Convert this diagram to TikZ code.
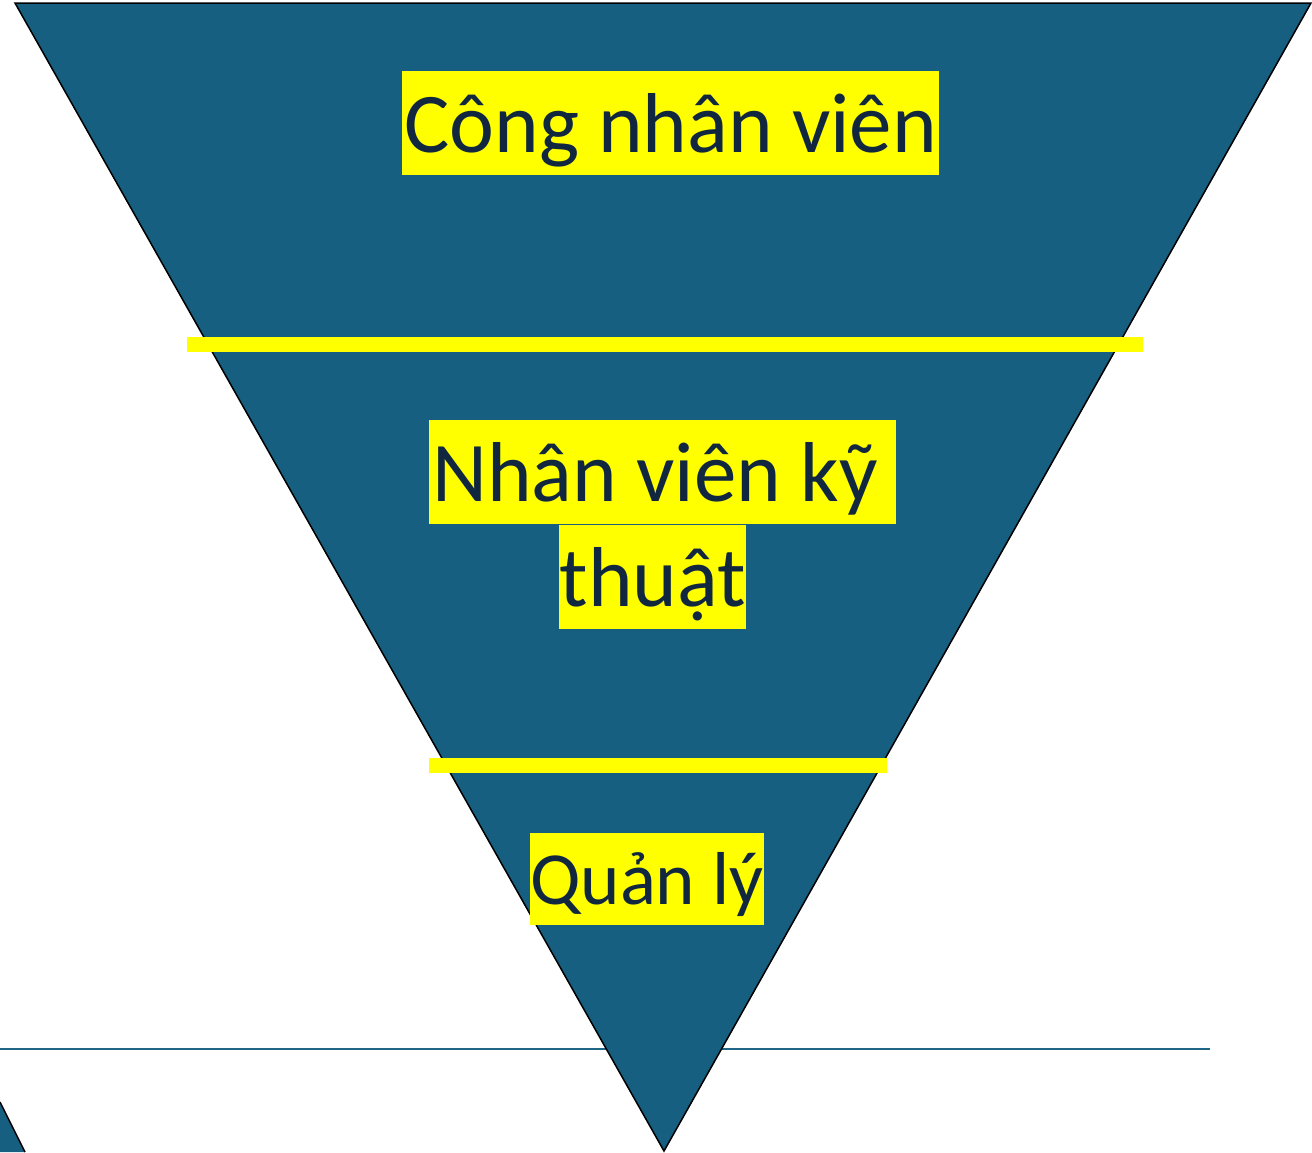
\documentclass[tikz,border=0pt]{standalone}
\usepackage{fontspec}
\setmainfont{Carlito}
\definecolor{tierblue}{HTML}{175F81}
\definecolor{inknavy}{HTML}{10273F}
\definecolor{rulecol}{HTML}{1F6687}
\definecolor{hlyellow}{HTML}{FFFF00}
\tikzset{
  tier/.style={fill=tierblue, draw=black, line width=1.5pt, line join=miter},
  hl/.style={fill=hlyellow, inner sep=0pt, text=inknavy, anchor=north west,
             text height=#1*0.952pt, text depth=#1*0.269pt,
             font=\fontsize{#1pt}{#1pt}\selectfont},
  divider/.style={fill=hlyellow, draw=none}
}
\begin{document}
\begin{tikzpicture}[x=1pt, y=-1pt]
  \useasboundingbox (0,0) rectangle (1312,1152);

  % base rule behind the funnel
  \coordinate (ruleL) at (0,1049);
  \coordinate (ruleR) at (1210,1049);
  \draw[rulecol, line width=2pt] (ruleL) -- (ruleR);

  % inverted triangle
  \coordinate (tl) at (15,3);
  \coordinate (tr) at (1311,3);
  \coordinate (apex) at (664,1151);
  \draw[tier] (tl) -- (tr) -- (apex) -- cycle;

  % corner of a neighbouring shape
  \coordinate (c1) at (0,1102);
  \coordinate (c2) at (25,1152);
  \fill[tierblue] (c1) -- (c2) -- (0,1152) -- cycle;
  \draw[black, line width=1.5pt] (c1) -- (c2);

  % tier dividers
  \fill[divider] (187,337) rectangle (1143,352);
  \fill[divider] (429,758) rectangle (887,773);

  % labels
  \node[hl=85, minimum width=537pt] (top) at (402,71) {Công nhân viên};
  \node[hl=85] (midA) at (429,420) {\makebox[467pt][l]{\hspace*{3pt}Nhân viên kỹ}};
  \node[hl=85, minimum width=187pt] (midB) at (559,525) {thuật};
  \node[hl=75, minimum width=233pt] (bot) at (530,833) {Quản lý};
\end{tikzpicture}
\end{document}
